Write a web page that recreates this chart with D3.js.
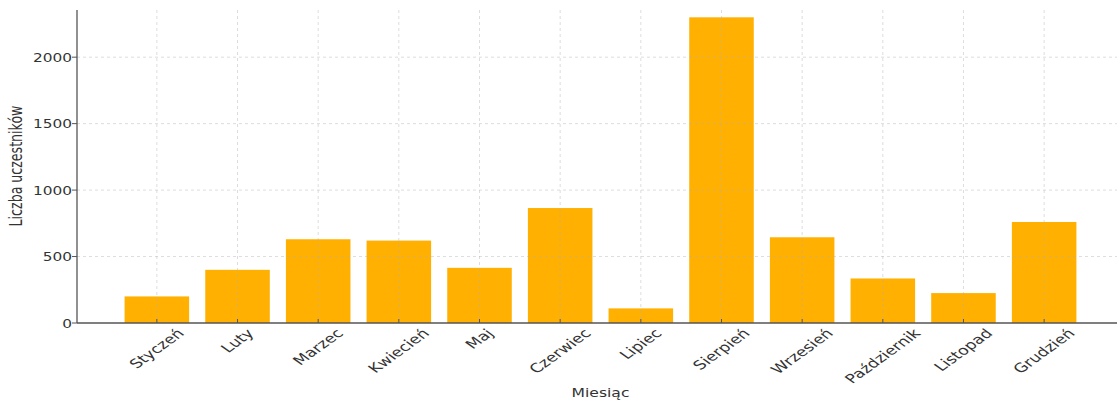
<!DOCTYPE html>
<html>
<head>
<meta charset="utf-8">
<script src="https://cdn.jsdelivr.net/npm/d3@7"></script>
<style>
  body { margin: 0; background: #fff; }
  svg { display: block; font-family: "DejaVu Sans", sans-serif; }
</style>
</head>
<body>
<div id="chart"></div>
<script>
// -> data
var months = ["Styczeń", "Luty", "Marzec", "Kwiecień", "Maj", "Czerwiec",
              "Lipiec", "Sierpień", "Wrzesień", "Październik", "Listopad", "Grudzień"];
var participants = [200, 400, 630, 620, 415, 865, 110, 2300, 645, 335, 225, 760];
var yTicks = [0, 500, 1000, 1500, 2000];

(function(){
    "use strict";

    var width = 1117, height = 401,
        left = 77, plotTop = 10, base = 323,
        stretch = 1.38; // the picture looks squeezed sideways, text follows it

    var svg = d3.select("#chart").append("svg")
        .attr("width", width)
        .attr("height", height);

    // -> index scale, like matplotlib's default margins around bars
    var x = d3.scaleLinear().domain([-0.99, 11.99]).range([left, 1124]),
        y = d3.scaleLinear().domain([0, 2355]).range([base, plotTop]),
        barW = x(0.8) - x(0);

    // -> bars
    svg.append("g").selectAll("rect")
        .data(participants)
        .enter().append("rect")
        .attr("x", function(d, i) { return x(i) - barW / 2; })
        .attr("y", function(d) { return y(d); })
        .attr("width", barW)
        .attr("height", function(d) { return base - y(d); })
        .attr("fill", "#ffb000");

    // -> grid (sits over the bars, faint)
    var grid = svg.append("g")
        .attr("stroke", "#b0b0b0")
        .attr("stroke-opacity", 0.55)
        .attr("stroke-dasharray", "3,3")
        .attr("stroke-width", 0.8);

    grid.selectAll("line.h")
        .data(yTicks.slice(1))
        .enter().append("line")
        .attr("x1", left).attr("x2", width)
        .attr("y1", function(d) { return y(d); })
        .attr("y2", function(d) { return y(d); });

    grid.selectAll("line.v")
        .data(months)
        .enter().append("line")
        .attr("x1", function(d, i) { return x(i); })
        .attr("x2", function(d, i) { return x(i); })
        .attr("y1", plotTop).attr("y2", base);

    // -> spines
    svg.append("line")
        .attr("x1", left).attr("x2", left).attr("y1", plotTop).attr("y2", base)
        .attr("stroke", "#555").attr("stroke-width", 1.3);
    svg.append("line")
        .attr("x1", left).attr("x2", width).attr("y1", base).attr("y2", base)
        .attr("stroke", "#555").attr("stroke-width", 1.3);

    // -> y ticks
    var yAxis = svg.append("g");
    yAxis.selectAll("line")
        .data(yTicks)
        .enter().append("line")
        .attr("x1", left - 5).attr("x2", left)
        .attr("y1", function(d) { return y(d); })
        .attr("y2", function(d) { return y(d); })
        .attr("stroke", "#555");
    yAxis.selectAll("text")
        .data(yTicks)
        .enter().append("text")
        .attr("transform", function(d) { return "translate(" + (left - 5) + "," + y(d) + ") scale(1.18,1)"; })
        .attr("text-anchor", "end")
        .attr("dy", "0.36em")
        .attr("font-size", 13)
        .attr("fill", "#333")
        .text(function(d) { return d; });

    // -> x ticks (inward) and rotated labels
    var xAxis = svg.append("g");
    xAxis.selectAll("line")
        .data(months)
        .enter().append("line")
        .attr("x1", function(d, i) { return x(i); })
        .attr("x2", function(d, i) { return x(i); })
        .attr("y1", base).attr("y2", base - 4)
        .attr("stroke", "#555");

    xAxis.selectAll("text")
        .data(months)
        .enter().append("text")
        .attr("text-anchor", "middle")
        .attr("dominant-baseline", "central")
        .attr("font-size", 12.6)
        .attr("fill", "#333")
        .text(function(d) { return d; })
        .attr("transform", function(d, i) {
            var L = this.getComputedTextLength(),
                cy = 327 + (L + 12) / Math.SQRT2 / 2;
            return "translate(" + x(i) + "," + cy + ") scale(" + stretch + ",1) rotate(-45)";
        });

    // -> axis titles
    svg.append("text")
        .attr("transform", "translate(600.5,397) scale(1.3,1)")
        .attr("text-anchor", "middle")
        .attr("font-size", 12)
        .attr("fill", "#333")
        .text("Miesiąc");

    svg.append("text")
        .attr("transform", "translate(16,166) scale(" + stretch + ",1) rotate(-90)")
        .attr("text-anchor", "middle")
        .attr("dominant-baseline", "central")
        .attr("font-size", 12.6)
        .attr("fill", "#333")
        .text("Liczba uczestników");
})();
</script>
</body>
</html>
